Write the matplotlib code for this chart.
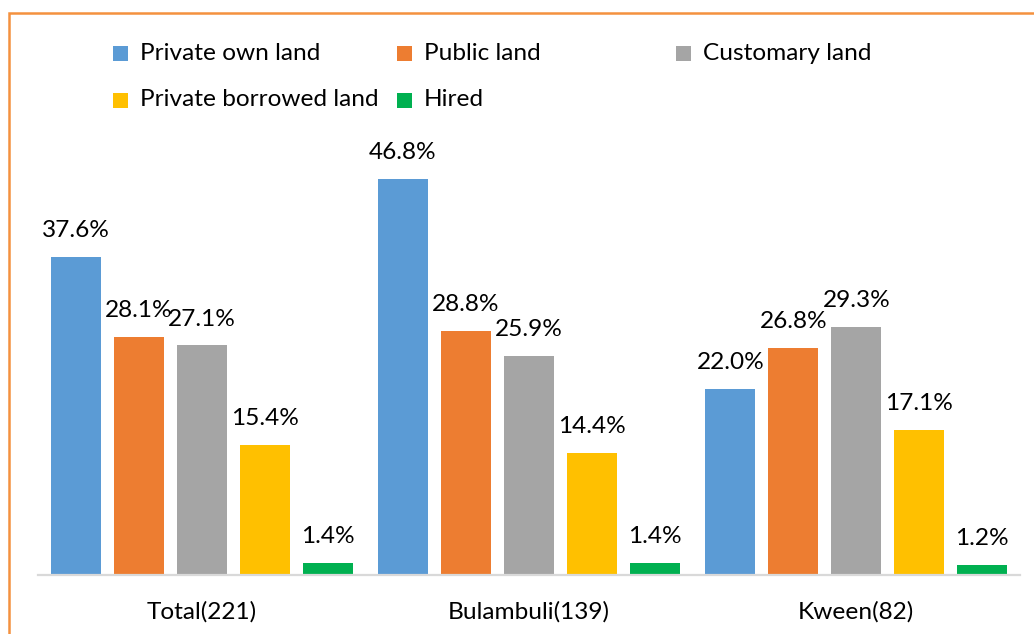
"""Land ownership by district - grouped bar chart."""

import matplotlib

matplotlib.use("Agg")
import matplotlib.pyplot as plt
import numpy as np
from matplotlib.patches import Rectangle

CATEGORIES = ["Total(221)", "Bulambuli(139)", "Kween(82)"]
SERIES = ["Private own land", "Public land", "Customary land",
          "Private borrowed land", "Hired"]
PRIVATE_OWN = [37.6, 46.8, 22.0]
PUBLIC = [28.1, 28.8, 26.8]
CUSTOMARY = [27.1, 25.9, 29.3]
PRIVATE_BORROWED = [15.4, 14.4, 17.1]
HIRED = [1.4, 1.4, 1.2]
COLORS = ["#5B9BD5", "#ED7D31", "#A5A5A5", "#FFC000", "#00B050"]

W, H = 1034, 634
FONT = "Lato"
FS = 17.6


def main() -> None:
    plt.rcParams["font.family"] = [FONT, "DejaVu Sans"]
    fig = plt.figure(figsize=(W / 100, H / 100), dpi=100)

    # axes placed in pixel terms: baseline at y=575, x from 38 to 1020
    base_px, px_per_pct, ymax = 575, 8.47, 50
    ax = fig.add_axes([38 / W, (H - base_px) / H, 982 / W,
                       ymax * px_per_pct / H])

    valores = [PRIVATE_OWN, PUBLIC, CUSTOMARY, PRIVATE_BORROWED, HIRED]
    x = np.arange(len(CATEGORIES))
    largura, passo = 0.153, 0.1925
    for i, (nome, vals, cor) in enumerate(zip(SERIES, valores, COLORS)):
        pos = x + (i - 2) * passo
        bars = ax.bar(pos, vals, width=largura, color=cor, label=nome, zorder=2)
        for b, v in zip(bars, vals):
            ax.annotate(f"{v:.1f}%", (b.get_x() + b.get_width() / 2, v),
                        xytext=(0, 19), textcoords="offset points",
                        ha="center", va="center", fontsize=FS,
                        color="#000000", annotation_clip=False)

    ax.set_xlim(-0.5, len(CATEGORIES) - 0.5)
    ax.set_ylim(0, ymax)
    ax.set_xticks(x)
    ax.set_xticklabels(CATEGORIES, fontsize=FS)
    ax.tick_params(axis="x", length=0, pad=19)
    ax.set_yticks([])
    for s in ["top", "right", "left"]:
        ax.spines[s].set_visible(False)
    ax.spines["bottom"].set_color("#D9D9D9")
    ax.spines["bottom"].set_linewidth(1.6)
    ax.spines["bottom"].set_zorder(3)

    # legend laid out like Excel: uniform columns, two rows
    cols_px = [113, 397, 676]
    rows_px = [53, 100]
    for i, (nome, cor) in enumerate(zip(SERIES, COLORS)):
        cx, cy = cols_px[i % 3], rows_px[i // 3]
        fig.patches.append(Rectangle(((cx) / W, (H - cy - 7.5) / H),
                                     15 / W, 15 / H, facecolor=cor,
                                     transform=fig.transFigure))
        fig.text((cx + 27) / W, (H - cy) / H, nome, fontsize=FS,
                 ha="left", va="center")

    # orange chart border (runs off the right and bottom edges)
    fig.patches.append(Rectangle((9 / W, -0.1), 1.2, (H - 13) / H + 0.1,
                                 facecolor="none", edgecolor="#F4913F",
                                 linewidth=1.8, transform=fig.transFigure))

    fig.savefig("out.png", dpi=100)
    plt.close(fig)


if __name__ == "__main__":
    main()
